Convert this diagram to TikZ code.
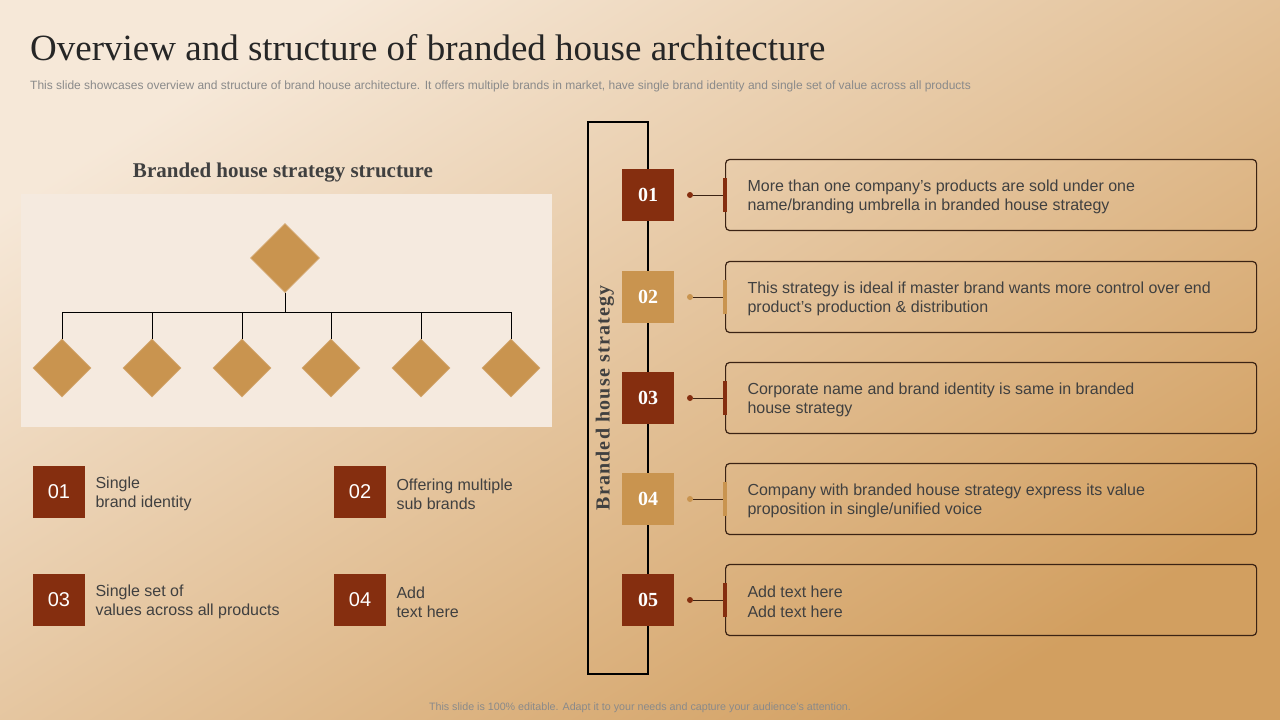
\documentclass[tikz,border=0pt]{standalone}
\usepackage{fontspec}
\setmainfont{Liberation Serif}
\setsansfont{Liberation Sans}
\usepackage{xcolor}
\definecolor{bgLight}  {HTML}{F6E8D8}
\definecolor{bgMid}    {HTML}{E3C299}
\definecolor{bgDark}   {HTML}{D29F60}
\definecolor{rust}     {HTML}{852E0F}
\definecolor{tan}      {HTML}{C9944F}
\definecolor{panelBack}{HTML}{F5EADF}
\definecolor{bodyText} {HTML}{404040}
\definecolor{noteText} {HTML}{8A8A8A}
\definecolor{titleText}{HTML}{262626}
\definecolor{boxLine}  {HTML}{3B2314}
\usetikzlibrary{shapes.geometric, calc}
\tikzset{
    numsq/.style={rectangle, minimum size=52pt, inner sep=0pt, text=white},
    rustsq/.style={numsq, fill=rust},
    tansq/.style={numsq, fill=tan},
    brdiamond/.style={diamond, fill=tan, draw=tan!80!white, line width=0.6pt,
                      inner sep=0pt, aspect=1},
    treeline/.style={-, line width=1pt, black},
    infobox/.style={draw=boxLine, line width=1.2pt, rounded corners=4pt,
                    minimum width=531pt, minimum height=71pt, anchor=west},
    infotext/.style={anchor=west, align=left, text=bodyText,
                     font=\sffamily\fontsize{16}{19.5}\selectfont},
    itemtext/.style={anchor=west, align=left, text=bodyText,
                     font=\sffamily\fontsize{16}{19}\selectfont},
    dotmark/.style={circle, minimum size=6pt, inner sep=0pt},
    barmark/.style={rectangle, minimum width=4pt, minimum height=34pt, inner sep=0pt},
}

\begin{document}
\begin{tikzpicture}[x=1pt, y=-1pt]
% Page and background.
\useasboundingbox (0,0) rectangle (1280,720);
\shade[shading=axis, top color=bgLight, middle color=bgMid, bottom color=bgDark,
       shading angle=32] (0,0) rectangle (1280,720);
% Title and subtitle.
\node[anchor=base west, text=titleText, font=\fontsize{37}{42}\selectfont,
      inner sep=0pt] (title) at (30,60) {Overview and structure of branded house architecture};
\node[anchor=base west, text=noteText, font=\sffamily\fontsize{12}{14}\selectfont,
      inner sep=0pt] (subtitle) at (30,89) {This slide showcases overview and structure of brand house architecture. It offers multiple brands in market, have single brand identity and single set of value across all products};
% Left: strategy structure.
\node[text=bodyText, font=\bfseries\fontsize{21}{25}\selectfont] (structtitle) at (283,173)
    {Branded house strategy structure};
\fill[panelBack] (21,194) rectangle (552,427);
\node[brdiamond, minimum width=69pt, minimum height=69pt] (top) at (285,258) {};
\coordinate (bus) at (285,312);
\foreach \x [count=\i] in {62,152,242,331,421,511} {
    \node[brdiamond, minimum width=58pt, minimum height=58pt] (d\i) at (\x,368) {};
    \draw[treeline] (top.south) -- (bus) -| (d\i.north);
}
% Left: numbered items.
\node[rustsq, font=\sffamily\fontsize{20}{24}\selectfont] (it1) at (59,492) {01};
\node[itemtext] (it1t) at (92,494) {Single\\brand identity};
\node[rustsq, font=\sffamily\fontsize{20}{24}\selectfont] (it2) at (360,492) {02};
\node[itemtext] (it2t) at (393,494) {Offering multiple\\sub brands};
\node[rustsq, font=\sffamily\fontsize{20}{24}\selectfont] (it3) at (59,600) {03};
\node[itemtext] (it3t) at (92,602) {Single set of\\values across all products};
\node[rustsq, font=\sffamily\fontsize{20}{24}\selectfont] (it4) at (360,600) {04};
\node[itemtext] (it4t) at (393,602) {Add\\text here};
% Right: strategy frame.
\draw[line width=1.2pt, black] (588,122) rectangle (648,674);
\node[rotate=90, text=bodyText, font=\bfseries\fontsize{20}{24}\selectfont\addfontfeature{LetterSpace=6}]
    (sidetitle) at (605,398) {Branded house strategy};
% Right: steps.
\foreach \y/\c/\n/\t in {
    195/rust/01/{More than one company’s products are sold under one\\name/branding umbrella in branded house strategy},
    297/tan/02/{This strategy is ideal if master brand wants more control over end\\product’s production \& distribution},
    398/rust/03/{Corporate name and brand identity is same in branded\\house strategy},
    499/tan/04/{Company with branded house strategy express its value\\proposition in single/unified voice},
    600/rust/05/{Add text here\\Add text here}} {
    \node[numsq, fill=\c, font=\bfseries\fontsize{20}{24}\selectfont] (sq\n) at (648,\y) {\n};
    \node[dotmark, fill=\c] (dot\n) at (690,\y) {};
    \node[infobox] (box\n) at (725,\y) {};
    \node[barmark, fill=\c] (bar\n) at (725,\y) {};
    \draw[line width=1pt, boxLine] (dot\n) -- (bar\n);
    \node[infotext] (txt\n) at (744,\y+2) {\t};
}
% Footer.
\node[text=noteText, font=\sffamily\fontsize{10.7}{12}\selectfont] (footer) at (640,708)
    {This slide is 100\% editable.  Adapt it to your needs and capture your audience’s attention.};
\end{tikzpicture}
\end{document}
